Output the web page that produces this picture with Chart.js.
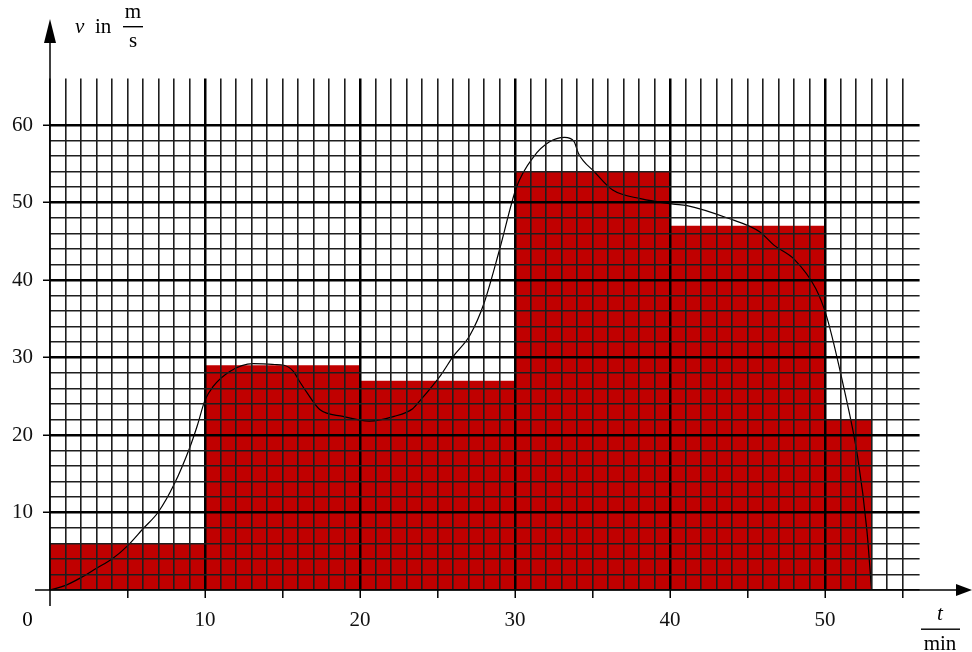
<!DOCTYPE html>
<html>
<head>
<meta charset="utf-8">
<script src="https://cdn.jsdelivr.net/npm/chart.js@4/dist/chart.umd.min.js"></script>
<style>
  html, body { margin: 0; padding: 0; background: #fff; }
</style>
</head>
<body>
<canvas id="grafikGeschwindigkeit" width="972" height="652"></canvas>
<script>
// Balken (Mittelwerte je Intervall)
const balkenStart = [0, 10, 20, 30, 40, 50];
const balkenEnde = [10, 20, 30, 40, 50, 53];
const balkenHoehe = [6, 29, 27, 54, 47, 22];

// gemessene Kurve v(t)
const kurveT = [0, 1, 2, 3, 4, 5, 6, 7, 8, 9, 9.5, 10, 10.5, 11.6, 13.1, 14.5, 15.1, 15.7, 16.1, 16.6, 17.4,
  18.9, 20.6, 22.2, 23.4, 23.9, 25.2, 26.0, 27.1, 28.0, 29.0, 30.1, 31.2, 32.2, 33.2, 33.8, 34.1, 35.1,
  36.3, 38.1, 40.2, 41.1, 43.7, 45.8, 46.7, 48.0, 49.4, 50.1, 51.2, 52.1, 52.7, 53];
const kurveV = [0, 0.6, 1.6, 2.8, 4.0, 5.7, 7.9, 10.1, 13.6, 18.3, 21.2, 24.5, 26.2, 28.2, 29.2, 29.1, 29.0, 28.2, 26.9, 25.4, 23.3,
  22.4, 21.8, 22.4, 23.4, 24.5, 27.7, 30.1, 32.9, 37.0, 43.9, 52.0, 55.9, 57.8, 58.4, 57.9, 56.3, 54.0,
  51.6, 50.5, 49.8, 49.6, 48.0, 46.2, 44.5, 42.7, 38.9, 35.3, 26.2, 17.2, 7.7, 0];

// Achsenbeschriftung
const xBeschriftung = [10, 20, 30, 40, 50];
const yBeschriftung = [10, 20, 30, 40, 50, 60];

// Gitterlinien (Kästchenpapier)
const xGitter = [];
for (let i = 0; i <= 55; i++) xGitter.push(i);
const yGitter = [];
for (let i = 0; i <= 60; i += 2) yGitter.push(i);

const schrift = "'Liberation Serif', 'DejaVu Serif', serif";

// Treppenpunkte für die Balkenfläche
const treppe = balkenStart.map((s, i) => ({ x: s, y: balkenHoehe[i] }));
treppe.push({ x: balkenEnde[balkenEnde.length - 1], y: balkenHoehe[balkenHoehe.length - 1] });
treppe.push({ x: balkenEnde[balkenEnde.length - 1], y: 0 });

const kurve = kurveT.map((t, i) => ({ x: t, y: kurveV[i] }));

// Achsen mit Pfeilen und Einheiten
const achsenPlugin = {
  id: "achsen",
  afterDraw(chart) {
    const { ctx } = chart;
    const x0 = chart.scales.x.getPixelForValue(0);
    const y0 = chart.scales.y.getPixelForValue(0);
    ctx.save();
    ctx.strokeStyle = "#000";
    ctx.fillStyle = "#000";
    ctx.lineWidth = 1.5;

    // y-Achse
    ctx.beginPath();
    ctx.moveTo(x0, y0 + 16);
    ctx.lineTo(x0, 42);
    ctx.stroke();
    ctx.beginPath();
    ctx.moveTo(x0, 19);
    ctx.lineTo(x0 - 6, 43);
    ctx.lineTo(x0 + 6, 43);
    ctx.closePath();
    ctx.fill();

    // x-Achse
    ctx.beginPath();
    ctx.moveTo(x0 - 15, y0);
    ctx.lineTo(957, y0);
    ctx.stroke();
    ctx.beginPath();
    ctx.moveTo(972, y0);
    ctx.lineTo(956, y0 - 6);
    ctx.lineTo(956, y0 + 6);
    ctx.closePath();
    ctx.fill();

    ctx.textBaseline = "alphabetic";
    ctx.font = "21px " + schrift;
    ctx.textAlign = "center";
    ctx.fillText("0", 27.5, 626);

    // v in m/s
    ctx.textAlign = "left";
    ctx.font = "italic 21px " + schrift;
    ctx.fillText("v", 75, 33);
    ctx.font = "21px " + schrift;
    ctx.fillText("in", 95, 33);
    ctx.textAlign = "center";
    ctx.fillText("m", 133, 18);
    ctx.fillText("s", 133, 47);
    ctx.fillRect(123, 26, 20, 1.4);

    // t/min
    ctx.font = "italic 21px " + schrift;
    ctx.fillText("t", 940, 620);
    ctx.font = "21px " + schrift;
    ctx.fillText("min", 940, 650);
    ctx.fillRect(921, 628.5, 39, 1.4);
    ctx.restore();
  }
};

new Chart(document.getElementById("grafikGeschwindigkeit"), {
  type: "line",
  data: {
    datasets: [
      {
        data: kurve,
        borderColor: "#000",
        borderWidth: 1.2,
        pointRadius: 0,
        cubicInterpolationMode: "monotone",
        fill: false,
        order: 0
      },
      {
        data: treppe,
        stepped: "before",
        borderWidth: 0,
        borderColor: "rgba(0,0,0,0)",
        backgroundColor: "#c00000",
        pointRadius: 0,
        fill: "origin",
        order: 1
      }
    ]
  },
  options: {
    responsive: false,
    animation: false,
    layout: { padding: { top: 78.5, right: 52.4, left: 0, bottom: 0 } },
    plugins: {
      legend: { display: false },
      tooltip: { enabled: false }
    },
    scales: {
      x: {
        type: "linear",
        min: 0,
        max: 56.1,
        afterBuildTicks: s => { s.ticks = xGitter.map(v => ({ value: v })); },
        afterFit: s => { s.height = 62; },
        border: { display: false },
        grid: {
          z: 1,
          color: c => (c.tick.value % 10 === 0 && c.tick.value > 0) ? "#000" : "#1e1e1e",
          lineWidth: c => (c.tick.value % 10 === 0 && c.tick.value > 0) ? 2.5 : 1.6,
          tickLength: 8,
          tickWidth: 1.5,
          tickColor: c => (c.tick.value % 5 === 0 && c.tick.value > 0) ? "#000" : "rgba(0,0,0,0)"
        },
        ticks: {
          autoSkip: false,
          maxRotation: 0,
          padding: 10,
          color: "#111",
          font: { family: schrift, size: 21 },
          callback: v => xBeschriftung.includes(v) ? String(v) : ""
        }
      },
      y: {
        type: "linear",
        min: 0,
        max: 66,
        afterBuildTicks: s => { s.ticks = yGitter.map(v => ({ value: v })); },
        afterFit: s => { s.width = 50; },
        border: { display: false },
        grid: {
          z: 1,
          color: c => (c.tick.value % 10 === 0 && c.tick.value > 0) ? "#000" : "#1e1e1e",
          lineWidth: c => (c.tick.value % 10 === 0 && c.tick.value > 0) ? 2.5 : 1.6,
          tickLength: 7,
          tickWidth: 1.5,
          tickColor: c => (c.tick.value % 10 === 0 && c.tick.value > 0) ? "#000" : "rgba(0,0,0,0)"
        },
        ticks: {
          autoSkip: false,
          padding: 10,
          color: "#111",
          font: { family: schrift, size: 21 },
          callback: v => yBeschriftung.includes(v) ? String(v) : ""
        }
      }
    }
  },
  plugins: [achsenPlugin]
});
</script>
</body>
</html>
